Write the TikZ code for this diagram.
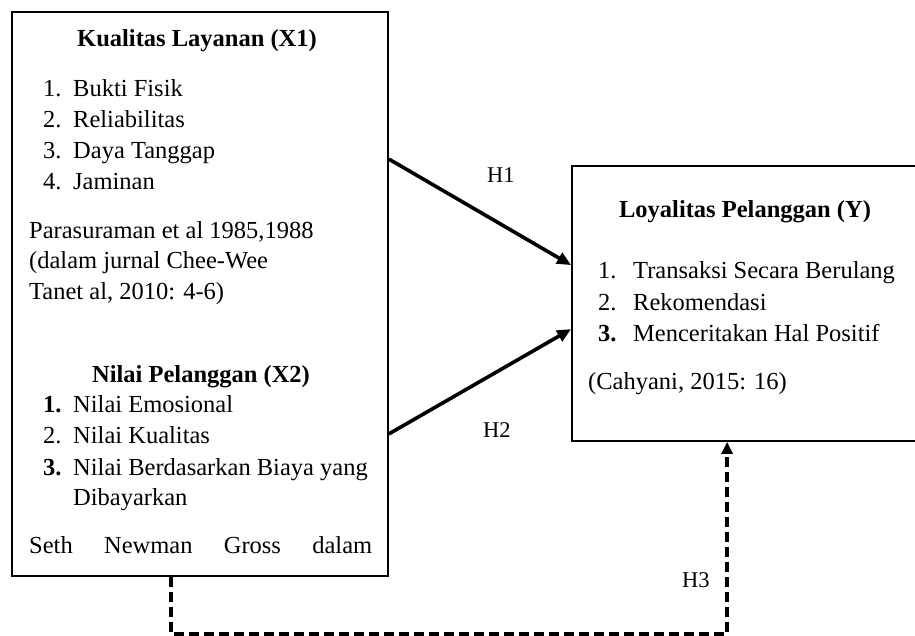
\documentclass[tikz,border=0pt]{standalone}
\usepackage{fontspec}
\setmainfont{Liberation Serif}
\usetikzlibrary{arrows.meta}
\begin{document}
\begin{tikzpicture}[x=1pt,y=-1pt,
  box/.style={draw,line width=1.8pt,fill=white,inner sep=0pt},
  txt/.style={anchor=base west,inner sep=0pt,font=\fontsize{24.5}{30}\selectfont},
  head/.style={anchor=base,inner sep=0pt,font=\fontsize{24.5}{30}\selectfont\bfseries},
  hlab/.style={anchor=base west,inner sep=0pt,font=\fontsize{22.5}{27}\selectfont},
  arr/.style={line width=3.6pt,-{Triangle[length=14pt,width=12pt]}},
  darr/.style={line width=4pt,dash pattern=on 10pt off 5pt,-{Triangle[length=12pt,width=11pt]}}]
\useasboundingbox (0,0) rectangle (915,636);
\clip (0,0) rectangle (915,636);
\fill[white] (0,0) rectangle (915,636);
% boxes
\node[box,minimum width=376pt,minimum height=564pt] (L) at (200,294) {};
\node[box,minimum width=370pt,minimum height=275pt] (R) at (757,303.5) {};
% left box text
\node[head] (t1) at (197,47) {Kualitas Layanan (X1)};
\node[txt] (n1) at (43,97) {1.};  \node[txt] (i1) at (73,97) {Bukti Fisik};
\node[txt] (n2) at (43,128) {2.}; \node[txt] (i2) at (73,128) {Reliabilitas};
\node[txt] (n3) at (43,159) {3.}; \node[txt] (i3) at (73,159) {Daya Tanggap};
\node[txt] (n4) at (43,190) {4.}; \node[txt] (i4) at (73,190) {Jaminan};
\node[txt] (p1) at (29,239) {Parasuraman et al 1985,1988};
\node[txt] (p2) at (29,269) {(dalam jurnal Chee-Wee};
\node[txt] (p3) at (29,299) {Tanet al, 2010: 4-6)};
\node[head] (t2) at (201,382) {Nilai Pelanggan (X2)};
\node[txt] (m1) at (43,412) {\bfseries 1.}; \node[txt] (j1) at (73,412) {Nilai Emosional};
\node[txt] (m2) at (43,443) {2.};           \node[txt] (j2) at (73,443) {Nilai Kualitas};
\node[txt] (m3) at (43,475) {\bfseries 3.}; \node[txt] (j3) at (73,475) {Nilai Berdasarkan Biaya yang};
\node[txt] (j4) at (73,505) {Dibayarkan};
\node[txt] (s1) at (29,553) {\hbox to 343pt{Seth\hfill Newman\hfill Gross\hfill dalam}};
% right box text
\node[head] (t3) at (745,218) {Loyalitas Pelanggan (Y)};
\node[txt] (r1) at (598,278) {1.};           \node[txt] (k1) at (633,278) {Transaksi Secara Berulang};
\node[txt] (r2) at (598,310) {2.};           \node[txt] (k2) at (633,310) {Rekomendasi};
\node[txt] (r3) at (598,341) {\bfseries 3.}; \node[txt] (k3) at (633,341) {Menceritakan Hal Positif};
\node[txt] (c1) at (588,389) {(Cahyani, 2015: 16)};
% connectors
\draw[arr] ([yshift=-148pt]L.north east) -- ([yshift=-100pt]R.north west);
\draw[arr] ([yshift=143pt]L.south east) -- ([yshift=-164pt]R.north west);
\draw[darr] ([xshift=160pt]L.south west) -- ++(0,57) -| ([xshift=156pt]R.south west);
% labels
\node[hlab] (h1) at (487,183) {H1};
\node[hlab] (h2) at (483,437) {H2};
\node[hlab] (h3) at (682,587) {H3};
\end{tikzpicture}
\end{document}
